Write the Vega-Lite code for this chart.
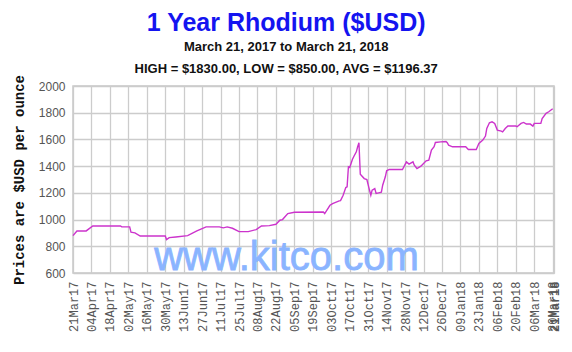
{
  "$schema": "https://vega.github.io/schema/vega-lite/v6.json",
  "width": 481,
  "height": 187,
  "autosize": {"type": "none"},
  "padding": {"left": 73, "top": 86, "right": 18, "bottom": 79},
  "background": "white",
  "title": {
    "text": "1 Year Rhodium ($USD)",
    "subtitle": ["March 21, 2017 to March 21, 2018", "HIGH = $1830.00, LOW = $850.00, AVG = $1196.37"],
    "anchor": "middle",
    "frame": "bounds",
    "font": "Liberation Sans",
    "fontSize": 25,
    "fontWeight": "bold",
    "color": "#1414f0",
    "subtitleFont": "Liberation Sans",
    "subtitleFontSize": 13,
    "subtitleFontWeight": "bold",
    "subtitleColor": "#111111",
    "subtitleLineHeight": 22,
    "subtitlePadding": 5,
    "offset": -2
  },
  "config": {
    "view": {"stroke": "#c8c8c8", "strokeWidth": 1.5},
    "axis": {"gridColor": "#cccccc", "gridWidth": 1.3, "domain": false, "ticks": false}
  },
  "datasets": {
    "prices": [
      {"date": "2017-03-21", "price": 880},
      {"date": "2017-03-24", "price": 915},
      {"date": "2017-03-31", "price": 915},
      {"date": "2017-04-05", "price": 952},
      {"date": "2017-04-26", "price": 952},
      {"date": "2017-04-27", "price": 945},
      {"date": "2017-05-03", "price": 945},
      {"date": "2017-05-04", "price": 905},
      {"date": "2017-05-07", "price": 900},
      {"date": "2017-05-11", "price": 877},
      {"date": "2017-05-30", "price": 877},
      {"date": "2017-05-31", "price": 850},
      {"date": "2017-06-02", "price": 865},
      {"date": "2017-06-07", "price": 870},
      {"date": "2017-06-16", "price": 880},
      {"date": "2017-06-23", "price": 915},
      {"date": "2017-06-30", "price": 945},
      {"date": "2017-07-10", "price": 945},
      {"date": "2017-07-13", "price": 938},
      {"date": "2017-07-16", "price": 945},
      {"date": "2017-07-20", "price": 935},
      {"date": "2017-07-25", "price": 910},
      {"date": "2017-08-01", "price": 910},
      {"date": "2017-08-07", "price": 925},
      {"date": "2017-08-11", "price": 952},
      {"date": "2017-08-17", "price": 955},
      {"date": "2017-08-22", "price": 965},
      {"date": "2017-08-25", "price": 995},
      {"date": "2017-08-27", "price": 1000},
      {"date": "2017-08-31", "price": 1045},
      {"date": "2017-09-05", "price": 1055},
      {"date": "2017-09-27", "price": 1057},
      {"date": "2017-09-28", "price": 1045},
      {"date": "2017-10-02", "price": 1107},
      {"date": "2017-10-04", "price": 1120},
      {"date": "2017-10-09", "price": 1140},
      {"date": "2017-10-10", "price": 1142},
      {"date": "2017-10-12", "price": 1182},
      {"date": "2017-10-14", "price": 1240},
      {"date": "2017-10-15", "price": 1245},
      {"date": "2017-10-16", "price": 1395},
      {"date": "2017-10-17", "price": 1390},
      {"date": "2017-10-19", "price": 1450},
      {"date": "2017-10-20", "price": 1470},
      {"date": "2017-10-22", "price": 1507},
      {"date": "2017-10-23", "price": 1545},
      {"date": "2017-10-24", "price": 1575},
      {"date": "2017-10-25", "price": 1340},
      {"date": "2017-10-28", "price": 1307},
      {"date": "2017-10-30", "price": 1300},
      {"date": "2017-11-01", "price": 1220},
      {"date": "2017-11-02", "price": 1182},
      {"date": "2017-11-03", "price": 1220},
      {"date": "2017-11-05", "price": 1232},
      {"date": "2017-11-06", "price": 1195},
      {"date": "2017-11-08", "price": 1200},
      {"date": "2017-11-10", "price": 1205},
      {"date": "2017-11-11", "price": 1257},
      {"date": "2017-11-13", "price": 1320},
      {"date": "2017-11-14", "price": 1365},
      {"date": "2017-11-16", "price": 1375},
      {"date": "2017-11-26", "price": 1375},
      {"date": "2017-11-29", "price": 1432},
      {"date": "2017-12-01", "price": 1415},
      {"date": "2017-12-04", "price": 1432},
      {"date": "2017-12-05", "price": 1407},
      {"date": "2017-12-07", "price": 1382},
      {"date": "2017-12-10", "price": 1400},
      {"date": "2017-12-12", "price": 1420},
      {"date": "2017-12-14", "price": 1440},
      {"date": "2017-12-16", "price": 1445},
      {"date": "2017-12-18", "price": 1520},
      {"date": "2017-12-20", "price": 1545},
      {"date": "2017-12-21", "price": 1577},
      {"date": "2017-12-25", "price": 1582},
      {"date": "2017-12-29", "price": 1585},
      {"date": "2017-12-30", "price": 1575},
      {"date": "2017-12-31", "price": 1557},
      {"date": "2018-01-03", "price": 1545},
      {"date": "2018-01-13", "price": 1545},
      {"date": "2018-01-15", "price": 1525},
      {"date": "2018-01-21", "price": 1525},
      {"date": "2018-01-23", "price": 1570},
      {"date": "2018-01-26", "price": 1595},
      {"date": "2018-01-28", "price": 1625},
      {"date": "2018-01-29", "price": 1682},
      {"date": "2018-01-31", "price": 1725},
      {"date": "2018-02-02", "price": 1732},
      {"date": "2018-02-04", "price": 1720},
      {"date": "2018-02-06", "price": 1670},
      {"date": "2018-02-09", "price": 1662},
      {"date": "2018-02-10", "price": 1657},
      {"date": "2018-02-12", "price": 1682},
      {"date": "2018-02-14", "price": 1700},
      {"date": "2018-02-20", "price": 1700},
      {"date": "2018-02-21", "price": 1695},
      {"date": "2018-02-24", "price": 1720},
      {"date": "2018-02-26", "price": 1727},
      {"date": "2018-02-28", "price": 1715},
      {"date": "2018-03-03", "price": 1715},
      {"date": "2018-03-05", "price": 1700},
      {"date": "2018-03-06", "price": 1720},
      {"date": "2018-03-11", "price": 1720},
      {"date": "2018-03-12", "price": 1757},
      {"date": "2018-03-15", "price": 1795},
      {"date": "2018-03-17", "price": 1807},
      {"date": "2018-03-20", "price": 1830}
    ],
    "watermark": [
      {"date": "2017-08-30", "price": 619, "label": "www.kitco.com"}
    ]
  },
  "encoding": {
    "x": {
      "field": "date",
      "type": "temporal",
      "scale": {"type": "utc", "domain": [{"year": 2017, "month": 3, "date": 21, "utc": true}, {"year": 2018, "month": 3, "date": 21, "utc": true}]},
      "axis": {
        "title": null,
        "labelExpr": "utcFormat(datum.value, '%d%b%y')",
        "labelAngle": 270,
        "labelFont": "Liberation Mono",
        "labelFontSize": 12,
        "labelColor": "#555555",
        "labelPadding": 8,
        "labelOverlap": false,
        "labelFontWeight": {"condition": {"test": "datum.value >= 1521590000000", "value": "bold"}, "value": "normal"},
        "values": [
          {"year": 2017, "month": 3, "date": 21, "utc": true},
          {"year": 2017, "month": 4, "date": 4, "utc": true},
          {"year": 2017, "month": 4, "date": 18, "utc": true},
          {"year": 2017, "month": 5, "date": 2, "utc": true},
          {"year": 2017, "month": 5, "date": 16, "utc": true},
          {"year": 2017, "month": 5, "date": 30, "utc": true},
          {"year": 2017, "month": 6, "date": 13, "utc": true},
          {"year": 2017, "month": 6, "date": 27, "utc": true},
          {"year": 2017, "month": 7, "date": 11, "utc": true},
          {"year": 2017, "month": 7, "date": 25, "utc": true},
          {"year": 2017, "month": 8, "date": 8, "utc": true},
          {"year": 2017, "month": 8, "date": 22, "utc": true},
          {"year": 2017, "month": 9, "date": 5, "utc": true},
          {"year": 2017, "month": 9, "date": 19, "utc": true},
          {"year": 2017, "month": 10, "date": 3, "utc": true},
          {"year": 2017, "month": 10, "date": 17, "utc": true},
          {"year": 2017, "month": 10, "date": 31, "utc": true},
          {"year": 2017, "month": 11, "date": 14, "utc": true},
          {"year": 2017, "month": 11, "date": 28, "utc": true},
          {"year": 2017, "month": 12, "date": 12, "utc": true},
          {"year": 2017, "month": 12, "date": 26, "utc": true},
          {"year": 2018, "month": 1, "date": 9, "utc": true},
          {"year": 2018, "month": 1, "date": 23, "utc": true},
          {"year": 2018, "month": 2, "date": 6, "utc": true},
          {"year": 2018, "month": 2, "date": 20, "utc": true},
          {"year": 2018, "month": 3, "date": 6, "utc": true},
          {"year": 2018, "month": 3, "date": 20, "utc": true},
          {"year": 2018, "month": 3, "date": 21, "utc": true}
        ]
      }
    },
    "y": {
      "field": "price",
      "type": "quantitative",
      "scale": {"domain": [600, 2000], "nice": false, "zero": false},
      "axis": {
        "values": [600, 800, 1000, 1200, 1400, 1600, 1800, 2000],
        "format": "d",
        "labelFont": "Liberation Sans",
        "labelFontSize": 12,
        "labelColor": "#555555",
        "labelPadding": 8,
        "title": "Prices are $USD per ounce",
        "titleFont": "Liberation Mono",
        "titleFontSize": 14,
        "titleFontWeight": "bold",
        "titleColor": "#111111",
        "titlePadding": 12
      }
    }
  },
  "layer": [
    {
      "data": {"name": "watermark"},
      "mark": {"type": "text", "font": "Liberation Sans", "fontSize": 40, "align": "center", "baseline": "alphabetic", "color": "#8ab4ff", "stroke": "#8ab4ff", "strokeWidth": 0.8},
      "encoding": {
        "text": {"field": "label"}
      }
    },
    {
      "data": {"name": "prices"},
      "mark": {"type": "line", "color": "#cc33cc", "strokeWidth": 1.4}
    }
  ]
}
